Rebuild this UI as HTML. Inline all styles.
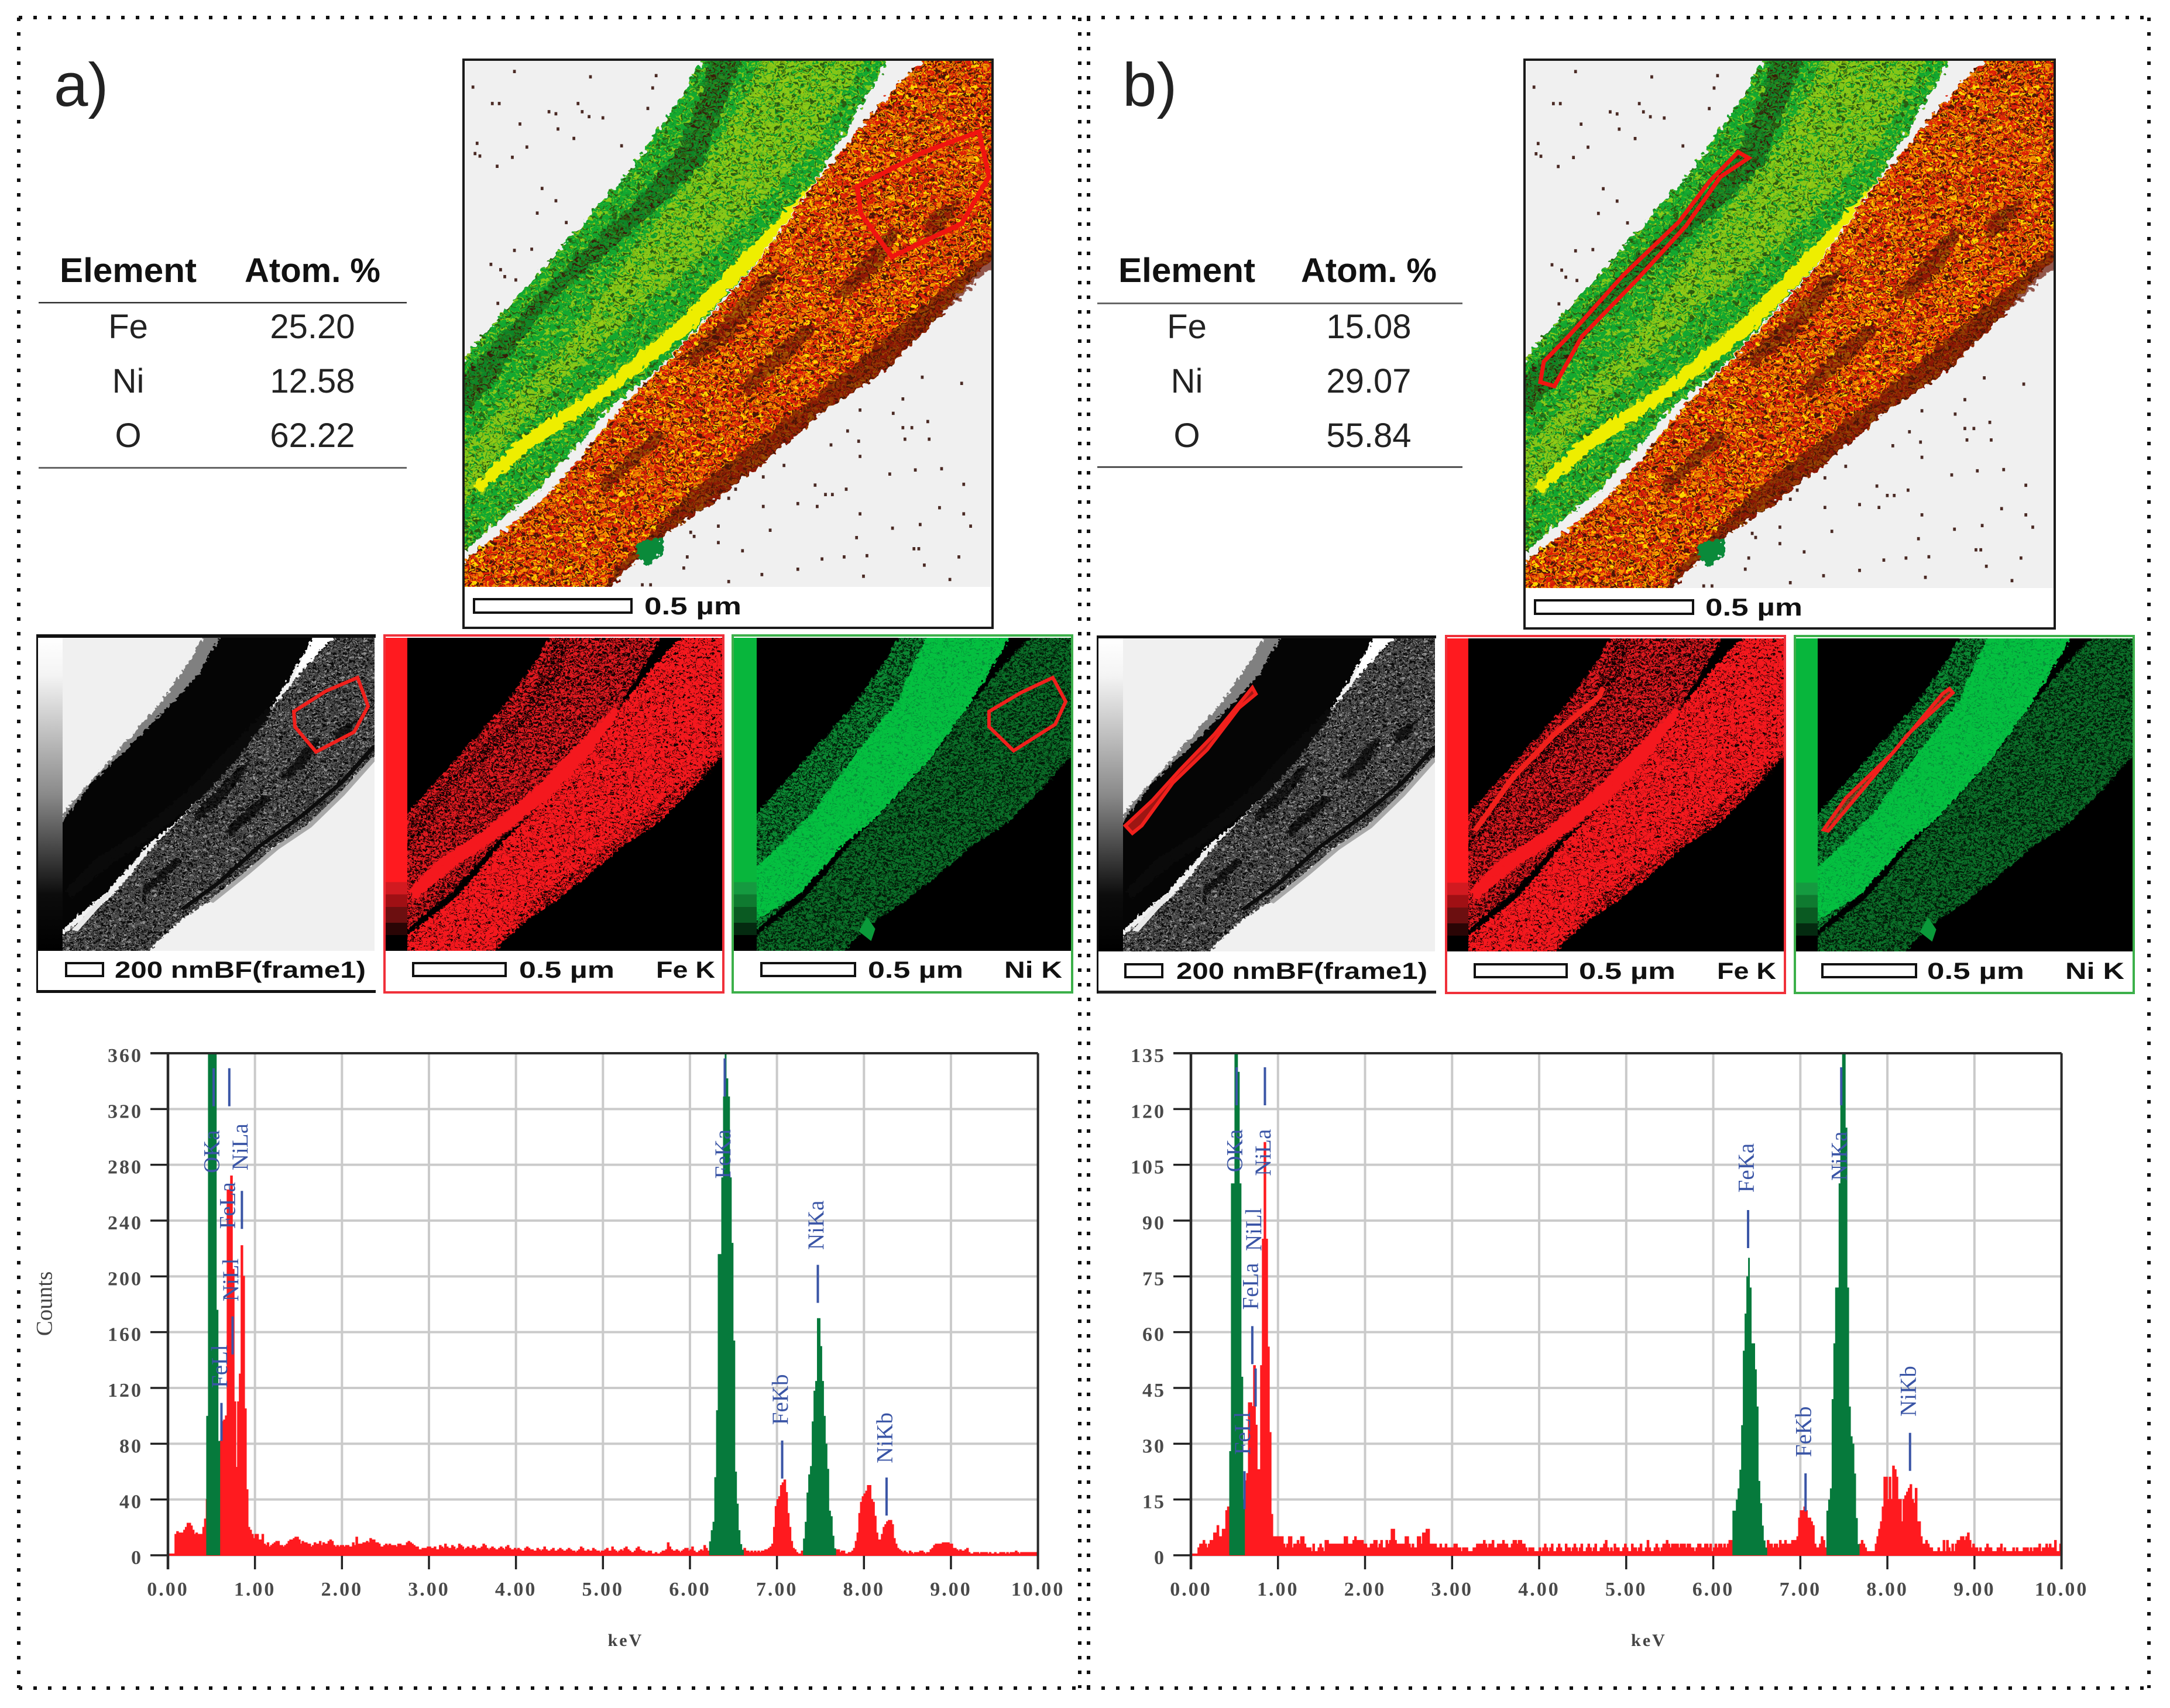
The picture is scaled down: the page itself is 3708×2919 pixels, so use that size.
<!DOCTYPE html>
<html lang="en">
<head>
<meta charset="utf-8">
<title>STEM-EDS maps and spectra</title>
<style>
html,body{margin:0;padding:0;background:#fff;}
svg{display:block;}
.tb{font-family:"Liberation Sans",sans-serif;font-size:58px;fill:#222;text-anchor:middle;}
.th{font-weight:700;fill:#111;}
.cap{font-family:"Liberation Sans",sans-serif;font-weight:700;fill:#111;}
.panel-letter{font-family:"Liberation Sans",sans-serif;font-size:105px;fill:#222;}
</style>
</head>
<body>
<svg id="figure" xmlns="http://www.w3.org/2000/svg" width="3708" height="2919" viewBox="0 0 3708 2919">
<defs>
  <polygon id="s-left" points="1020,120 1290,120 1230,290 1175,440 1090,640 960,880 880,990 830,1085 775,1195 720,1265 640,1385 640,925 668,870 735,740 820,580 900,430 985,230"/>
  <polygon id="s-right" points="1345,120 1460,120 1460,580 1430,630 1350,780 1270,910 1190,1000 1120,1100 1030,1220 960,1300 860,1460 660,1460 640,1405 668,1365 735,1280 785,1210 840,1105 890,1000 960,885 1090,645 1175,445 1260,270 1300,200"/>
  <polygon id="s-inner" points="1255,120 1180,340 1060,560 900,780 760,1010 640,1280 640,1120 668,1080 800,870 900,640 1010,400 1070,250 1105,120"/>
  <polygon id="s-leftdark" points="1030,120 1075,120 1045,250 1010,400 950,500 860,640 800,720 770,780 700,950 660,1030 640,1030 640,960 735,790 830,620 910,500 970,380 1000,270"/>
  <polygon id="s-rightdark" points="1460,560 1460,600 1350,780 1270,910 1190,1000 1120,1100 1030,1220 960,1300 860,1460 890,1380 1000,1190 1150,1000 1300,790"/>
  <path id="s-rightmottle" d="M1130 640L1105 720L1050 830L1000 890L985 870L1040 780L1090 690ZM1300 560L1270 650L1220 730L1200 720L1240 640L1280 560ZM1180 800L1140 870L1080 960L1065 940L1110 860L1160 790ZM1390 480L1360 560L1330 590L1340 520ZM960 1060L920 1130L870 1200L860 1180L910 1100L945 1050Z"/>
  <polygon id="s-streak" points="1175,440 1095,630 1000,800 880,960 770,1085 690,1200 680,1185 750,1065 860,945 975,785 1070,620"/>
  <polygon id="s-nibright" points="1085,120 1290,120 1230,290 1175,440 1090,640 960,880 880,990 830,1085 775,1195 640,1330 640,1135 800,870 900,640 1010,400"/>
  <polygon id="s-bfstrip" points="1020,120 1060,120 1000,300 910,460 820,610 740,740 640,960 640,925 668,870 735,740 820,580 900,430 985,230"/>

  <filter id="rough" filterUnits="userSpaceOnUse" x="600" y="100" width="900" height="1400" color-interpolation-filters="sRGB">
    <feTurbulence type="fractalNoise" baseFrequency="0.12 0.08" numOctaves="2" seed="3" result="t"/>
    <feDisplacementMap in="SourceGraphic" in2="t" scale="20" xChannelSelector="R" yChannelSelector="G"/>
  </filter>
  <filter id="sp-dense" filterUnits="userSpaceOnUse" x="600" y="100" width="900" height="1400" color-interpolation-filters="sRGB">
    <feTurbulence type="fractalNoise" baseFrequency="0.2 0.12" numOctaves="2" seed="5" result="n"/>
    <feColorMatrix in="n" type="matrix" values="0 0 0 0 0 0 0 0 0 0 0 0 0 0 0 14 0 0 0 -6.9" result="m"/>
    <feComposite in="SourceGraphic" in2="m" operator="in"/>
  </filter>
  <filter id="sp-mid" filterUnits="userSpaceOnUse" x="600" y="100" width="900" height="1400" color-interpolation-filters="sRGB">
    <feTurbulence type="fractalNoise" baseFrequency="0.22 0.13" numOctaves="2" seed="11" result="n"/>
    <feColorMatrix in="n" type="matrix" values="0 0 0 0 0 0 0 0 0 0 0 0 0 0 0 14 0 0 0 -7.6" result="m"/>
    <feComposite in="SourceGraphic" in2="m" operator="in"/>
  </filter>
  <filter id="sp-mid2" filterUnits="userSpaceOnUse" x="600" y="100" width="900" height="1400" color-interpolation-filters="sRGB">
    <feTurbulence type="fractalNoise" baseFrequency="0.24 0.14" numOctaves="2" seed="37" result="n"/>
    <feColorMatrix in="n" type="matrix" values="0 0 0 0 0 0 0 0 0 0 0 0 0 0 0 14 0 0 0 -7.7" result="m"/>
    <feComposite in="SourceGraphic" in2="m" operator="in"/>
  </filter>
  <filter id="sp-sparse" filterUnits="userSpaceOnUse" x="600" y="100" width="900" height="1400" color-interpolation-filters="sRGB">
    <feTurbulence type="fractalNoise" baseFrequency="0.2 0.12" numOctaves="2" seed="23" result="n"/>
    <feColorMatrix in="n" type="matrix" values="0 0 0 0 0 0 0 0 0 0 0 0 0 0 0 14 0 0 0 -8.3" result="m"/>
    <feComposite in="SourceGraphic" in2="m" operator="in"/>
  </filter>

  <symbol id="art-overlay" viewBox="668 148 762 1282" preserveAspectRatio="none">
    <rect x="668" y="148" width="762" height="1282" fill="#f0f0f0"/>
    <g filter="url(#rough)">
      <use href="#s-left" fill="#12a830"/>
      <g filter="url(#sp-mid)"><use href="#s-left" fill="#8cc818"/></g>
      <use href="#s-inner" fill="#9acb14" fill-opacity="0.85"/>
      <g filter="url(#sp-sparse)"><use href="#s-inner" fill="#e0e400"/></g>
      <g filter="url(#sp-mid2)"><use href="#s-inner" fill="#0ca030"/></g>
      <use href="#s-leftdark" fill="#0e7a24" fill-opacity="0.75"/>
      <g filter="url(#sp-mid2)"><use href="#s-leftdark" fill="#3a1a08"/></g>
      <g filter="url(#sp-sparse)"><use href="#s-left" fill="#2a5a10"/></g>
      <use href="#s-right" fill="#dc1e08"/>
      <g filter="url(#sp-dense)"><use href="#s-right" fill="#f48a00"/></g>
      <g filter="url(#sp-sparse)"><use href="#s-right" fill="#ffd800"/></g>
      <use href="#s-rightmottle" fill="#5a1006" fill-opacity="0.55"/>
      <use href="#s-rightdark" fill="#6a1404" fill-opacity="0.7"/>
      <g filter="url(#sp-mid2)"><use href="#s-right" fill="#4a1406"/></g>
      <use href="#s-streak" fill="#eeee00"/>
      <polygon points="920,1320 950,1310 955,1340 935,1380 915,1350" fill="#0a8a3a"/>
    </g>
    <path fill="none" stroke="#4a2a24" stroke-width="4" d="M740 170v8M850 183v8M945 180v8M940 210v8M680 208v8M708 248v8M718 248v8M790 268v8M800 273v8M832 248v8M838 268v8M848 280v8M868 283v8M933 260v8M748 298v8M803 310v8M826 333v8M686 345v8M758 354v8M895 351v8M683 370v8M690 376v8M737 379v8M715 401v8M780 455v8M800 485v8M773 515v8M815 538v8M740 606v8M765 603v8M706 640v8M720 653v8M726 670v8M742 678v8M716 735v8M1330 915v8M1387 930v8M1302 968v8M1240 995v8M1288 1003v8M1338 1023v8M1302 1038v8M1315 1038v8M1222 1046v8M1238 1071v8M1305 1066v8M1340 1066v8M1198 1080v8M1240 1108v8M1130 1130v8M1100 1158v8M1175 1178v8M1283 1151v8M1320 1141v8M1358 1138v8M1390 1176v8M1190 1201v8M1200 1201v8M1220 1188v8M1060 1188v8M1050 1210v8M1100 1230v8M1150 1223v8M1178 1230v8M1240 1248v8M1355 1233v8M1390 1248v8M1035 1278v8M995 1293v8M1000 1303v8M1110 1288v8M1287 1283v8M1327 1274v8M1400 1278v8M1235 1306v8M1070 1338v8M1035 1318v8M990 1353v8M985 1380v8M1185 1358v8M1217 1353v8M1250 1350v8M1318 1333v8M1325 1333v8M1383 1353v8M1333 1373v8M1150 1383v8M1050 1413v8M1098 1396v8M1245 1400v8M1370 1408v8M925 1421v8M937 1421v8"/>
  </symbol>

  <symbol id="art-bf" viewBox="668 148 762 1282" preserveAspectRatio="none">
    <rect x="668" y="148" width="762" height="1282" fill="#f0f0f0"/>
    <polygon points="1280,120 1350,120 1260,270 1230,320" fill="#ffffff"/>
    <g filter="url(#rough)">
      <use href="#s-left" fill="#050505"/>
      <use href="#s-bfstrip" fill="#808080"/>
      <use href="#s-right" fill="#4c4c4c"/>
      <g filter="url(#sp-dense)"><use href="#s-right" fill="#0a0a0a"/></g>
      <g filter="url(#sp-sparse)"><use href="#s-right" fill="#969696"/></g>
      <use href="#s-rightmottle" fill="#000000" fill-opacity="0.7"/>
      <use href="#s-streak" fill="#0a0a0a" stroke="#0a0a0a" stroke-width="14"/>
    </g>
    <polyline points="1430,590 1350,740 1250,880 1150,1000 1050,1150 960,1260" fill="none" stroke="#0c0c0c" stroke-width="12"/>
    <polyline points="1430,640 1350,790 1270,920 1190,1010 1120,1110 1030,1230" fill="none" stroke="#a8a8a8" stroke-width="14"/>
    <polygon points="690,1345 770,1200 790,1190 705,1350" fill="#e8e8e8"/>
  </symbol>

  <symbol id="art-fe" viewBox="668 148 762 1282" preserveAspectRatio="none">
    <rect x="668" y="148" width="762" height="1282" fill="#000000"/>
    <g filter="url(#rough)">
      <use href="#s-left" fill="#e01a20"/>
      <g filter="url(#sp-dense)"><use href="#s-left" fill="#180002"/></g>
      <g filter="url(#sp-mid)"><use href="#s-leftdark" fill="#000000"/></g>
      <use href="#s-right" fill="#f4181e"/>
      <g filter="url(#sp-sparse)"><use href="#s-right" fill="#120000"/></g>
      <g filter="url(#sp-mid)"><use href="#s-rightdark" fill="#100000"/></g>
      <use href="#s-streak" fill="#f4181e" stroke="#f4181e" stroke-width="20"/>
    </g>
  </symbol>

  <symbol id="art-ni" viewBox="668 148 762 1282" preserveAspectRatio="none">
    <rect x="668" y="148" width="762" height="1282" fill="#000000"/>
    <g filter="url(#rough)">
      <use href="#s-right" fill="#0b7029"/>
      <g filter="url(#sp-dense)"><use href="#s-right" fill="#021a08"/></g>
      <use href="#s-left" fill="#0c8a34"/>
      <g filter="url(#sp-dense)"><use href="#s-left" fill="#02200a"/></g>
      <use href="#s-nibright" fill="#04c040"/>
      <g filter="url(#sp-sparse)"><use href="#s-nibright" fill="#07903a"/></g>
    </g>
    <polygon points="915,1350 935,1290 955,1340 945,1390" fill="#0a9a3a"/>
  </symbol>

  <linearGradient id="grey-scale" x1="0" y1="0" x2="0" y2="1">
    <stop offset="0" stop-color="#ffffff"/>
    <stop offset="0.12" stop-color="#f4f4f4"/>
    <stop offset="0.5" stop-color="#8a8a8a"/>
    <stop offset="0.82" stop-color="#0c0c0c"/>
    <stop offset="1" stop-color="#000000"/>
  </linearGradient>
  <linearGradient id="red-scale" x1="0" y1="0" x2="0" y2="1">
    <stop offset="0.78" stop-color="#ff1a1f"/>
    <stop offset="0.78" stop-color="#d21a20"/>
    <stop offset="0.82" stop-color="#d21a20"/>
    <stop offset="0.82" stop-color="#a01014"/>
    <stop offset="0.86" stop-color="#a01014"/>
    <stop offset="0.86" stop-color="#6c0f10"/>
    <stop offset="0.91" stop-color="#6c0f10"/>
    <stop offset="0.91" stop-color="#2a0505"/>
    <stop offset="0.95" stop-color="#2a0505"/>
    <stop offset="0.95" stop-color="#000000"/>
  </linearGradient>
  <linearGradient id="green-scale" x1="0" y1="0" x2="0" y2="1">
    <stop offset="0.78" stop-color="#08b63c"/>
    <stop offset="0.78" stop-color="#159a40"/>
    <stop offset="0.82" stop-color="#159a40"/>
    <stop offset="0.82" stop-color="#0f7a30"/>
    <stop offset="0.86" stop-color="#0f7a30"/>
    <stop offset="0.86" stop-color="#0a5a22"/>
    <stop offset="0.91" stop-color="#0a5a22"/>
    <stop offset="0.91" stop-color="#042a10"/>
    <stop offset="0.95" stop-color="#042a10"/>
    <stop offset="0.95" stop-color="#000000"/>
  </linearGradient>
</defs>

<rect width="3708" height="2919" fill="#ffffff"/>

<g fill="none" stroke="#111" stroke-width="6" stroke-dasharray="6 19">
  <line x1="32" y1="30" x2="3675" y2="30"/>
  <line x1="32" y1="2885" x2="3675" y2="2885"/>
  <line x1="32" y1="30" x2="32" y2="2885"/>
  <line x1="3672" y1="30" x2="3672" y2="2885"/>
  <line x1="1845" y1="30" x2="1845" y2="2885"/>
  <line x1="1860" y1="30" x2="1860" y2="2885"/>
</g>

<!-- PANEL A -->
<text class="panel-letter" x="92" y="181">a)</text>
<g>
  <text class="tb th" x="219" y="482" textLength="234" lengthAdjust="spacingAndGlyphs">Element</text>
  <text class="tb th" x="534" y="482">Atom. %</text>
  <rect x="66" y="516" width="629" height="2.5" fill="#333"/>
  <text class="tb" x="219" y="578">Fe</text>
  <text class="tb" x="534" y="578">25.20</text>
  <text class="tb" x="219" y="671">Ni</text>
  <text class="tb" x="534" y="671">12.58</text>
  <text class="tb" x="219" y="764">O</text>
  <text class="tb" x="534" y="764">62.22</text>
  <rect x="66" y="798" width="629" height="3" fill="#666"/>
</g>
<g>
  <rect x="792" y="102" width="904" height="971" fill="#fff" stroke="#1a1a1a" stroke-width="4"/>
  <use href="#art-overlay" x="794" y="104" width="900" height="899"/>
  <polygon points="1673,225 1690,302 1643,382 1524,439 1471,365 1465,319 1578,260" fill="none" stroke="#f01410" stroke-width="8"/>
  <rect x="810" y="1024" width="269" height="23" fill="#fff" stroke="#111" stroke-width="4"/>
  <text class="cap" x="1101" y="1050" font-size="42" textLength="166" lengthAdjust="spacingAndGlyphs">0.5 µm</text>
</g>
<g>
  <rect x="62" y="1090" width="45" height="535" fill="url(#grey-scale)"/>
  <use href="#art-bf" x="107" y="1090" width="533" height="535"/>
  <rect x="62" y="1084" width="580" height="6" fill="#111"/>
  <rect x="62" y="1692" width="580" height="5" fill="#111"/>
  <rect x="62" y="1084" width="3" height="613" fill="#111"/>
  <polygon points="611,1158 629,1207 605,1251 540,1285 504,1242 502,1216 557,1181" fill="none" stroke="#f0201c" stroke-width="6"/>
  <rect x="113" y="1646" width="63" height="22" fill="#fff" stroke="#111" stroke-width="4"/>
  <text class="cap" x="196" y="1671" font-size="40" textLength="429" lengthAdjust="spacingAndGlyphs">200 nmBF(frame1)</text>
</g>
<g>
  <rect x="656" y="1090" width="40" height="535" fill="url(#red-scale)"/>
  <use href="#art-fe" x="696" y="1090" width="539" height="535"/>
  <rect x="657" y="1086" width="579" height="610" fill="none" stroke="#f0303a" stroke-width="4"/>
  <rect x="706" y="1646" width="158" height="22" fill="#fff" stroke="#111" stroke-width="4"/>
  <text class="cap" x="887" y="1671" font-size="40" textLength="163" lengthAdjust="spacingAndGlyphs">0.5 µm</text>
  <text class="cap" x="1121" y="1671" font-size="40" textLength="101" lengthAdjust="spacingAndGlyphs">Fe K</text>
</g>
<g>
  <rect x="1251" y="1090" width="42" height="535" fill="url(#green-scale)"/>
  <use href="#art-ni" x="1293" y="1090" width="538" height="535"/>
  <rect x="1252" y="1086" width="580" height="610" fill="none" stroke="#3cb04a" stroke-width="4"/>
  <polygon points="1799,1158 1821,1199 1803,1238 1732,1283 1690,1242 1690,1216 1744,1184" fill="none" stroke="#f0201c" stroke-width="6"/>
  <rect x="1301" y="1646" width="160" height="22" fill="#fff" stroke="#111" stroke-width="4"/>
  <text class="cap" x="1483" y="1671" font-size="40" textLength="163" lengthAdjust="spacingAndGlyphs">0.5 µm</text>
  <text class="cap" x="1716" y="1671" font-size="40" textLength="99" lengthAdjust="spacingAndGlyphs">Ni K</text>
</g>

<!-- PANEL B -->
<text class="panel-letter" x="1918" y="181">b)</text>
<g>
  <text class="tb th" x="2028" y="482" textLength="234" lengthAdjust="spacingAndGlyphs">Element</text>
  <text class="tb th" x="2339" y="482">Atom. %</text>
  <rect x="1875" y="517" width="624" height="3" fill="#666"/>
  <text class="tb" x="2028" y="578">Fe</text>
  <text class="tb" x="2339" y="578">15.08</text>
  <text class="tb" x="2028" y="671">Ni</text>
  <text class="tb" x="2339" y="671">29.07</text>
  <text class="tb" x="2028" y="764">O</text>
  <text class="tb" x="2339" y="764">55.84</text>
  <rect x="1875" y="797" width="624" height="2.5" fill="#333"/>
</g>
<g>
  <rect x="2605" y="102" width="906" height="972" fill="#fff" stroke="#1a1a1a" stroke-width="4"/>
  <use href="#art-overlay" x="2607" y="104" width="902" height="901"/>
  <polygon points="2970,260 2988,270 2940,302 2881,386 2798,477 2703,575 2656,660 2632,653 2638,618 2680,575 2774,470 2869,379 2922,309" fill="none" stroke="#f01410" stroke-width="7"/>
  <rect x="2623" y="1026" width="270" height="23" fill="#fff" stroke="#111" stroke-width="4"/>
  <text class="cap" x="2914" y="1052" font-size="42" textLength="166" lengthAdjust="spacingAndGlyphs">0.5 µm</text>
</g>
<g>
  <rect x="1874" y="1091" width="45" height="535" fill="url(#grey-scale)"/>
  <use href="#art-bf" x="1919" y="1091" width="533" height="535"/>
  <rect x="1874" y="1086" width="580" height="5" fill="#111"/>
  <rect x="1874" y="1693" width="580" height="5" fill="#222"/>
  <rect x="1874" y="1086" width="3" height="612" fill="#111"/>
  <polygon points="2140,1175 2146,1186 2117,1210 2063,1281 2004,1338 1951,1411 1935,1424 1923,1411 1969,1368 2016,1316 2075,1255 2128,1190" fill="#f0201c" fill-opacity="0.65" stroke="#f0201c" stroke-width="6"/>
  <rect x="1923" y="1648" width="63" height="22" fill="#fff" stroke="#111" stroke-width="4"/>
  <text class="cap" x="2010" y="1673" font-size="40" textLength="429" lengthAdjust="spacingAndGlyphs">200 nmBF(frame1)</text>
</g>
<g>
  <rect x="2470" y="1091" width="39" height="535" fill="url(#red-scale)"/>
  <use href="#art-fe" x="2509" y="1091" width="539" height="535"/>
  <polyline points="2739,1175 2733,1190 2656,1255 2585,1329 2520,1420" fill="none" stroke="#f0201c" stroke-width="9"/>
  <rect x="2471" y="1087" width="579" height="610" fill="none" stroke="#f0303a" stroke-width="4"/>
  <rect x="2520" y="1648" width="157" height="22" fill="#fff" stroke="#111" stroke-width="4"/>
  <text class="cap" x="2698" y="1673" font-size="40" textLength="165" lengthAdjust="spacingAndGlyphs">0.5 µm</text>
  <text class="cap" x="2934" y="1673" font-size="40" textLength="101" lengthAdjust="spacingAndGlyphs">Fe K</text>
</g>
<g>
  <rect x="3066" y="1091" width="40" height="535" fill="url(#green-scale)"/>
  <use href="#art-ni" x="3106" y="1091" width="538" height="535"/>
  <polygon points="3331,1177 3337,1184 3260,1255 3189,1342 3124,1420 3116,1418 3154,1364 3236,1285 3319,1186" fill="#f0201c" fill-opacity="0.4" stroke="#f0201c" stroke-width="6"/>
  <rect x="3067" y="1087" width="579" height="610" fill="none" stroke="#3cb04a" stroke-width="4"/>
  <rect x="3114" y="1648" width="160" height="22" fill="#fff" stroke="#111" stroke-width="4"/>
  <text class="cap" x="3293" y="1673" font-size="40" textLength="166" lengthAdjust="spacingAndGlyphs">0.5 µm</text>
  <text class="cap" x="3529" y="1673" font-size="40" textLength="101" lengthAdjust="spacingAndGlyphs">Ni K</text>
</g>

<g id="chart-a"></g>
<g id="chart-b"></g>
</svg>

<script>
// Shared axis data
const binWidthKeV = 0.02;
const xTickValues = [0,1,2,3,4,5,6,7,8,9,10];
const xTickLabels = ['0.00','1.00','2.00','3.00','4.00','5.00','6.00','7.00','8.00','9.00','10.00'];
const peakNames = ['OKa','FeLl','FeLa','NiLl','NiLa','FeKa','FeKb','NiKa','NiKb'];
const peakEnergies = [0.525,0.615,0.705,0.743,0.85,6.40,7.06,7.47,8.26];

// Spectrum a
const yTickValuesA = [0,40,80,120,160,200,240,280,320,360];
const yTickLabelsA = ['0','40','80','120','160','200','240','280','320','360'];
const redCountsA = [
0,0,0,0,15,17,16,16,16,18, 20,23,23,21,18,15,16,15,15,15, 20,26,40,0,0,0,0,0,0,0, 82,96,97,100,262,262,272,205,110,63, 110,130,222,200,105,47,20,18,15,12,
15,15,11,11,15,8,7,9,6,7, 8,9,10,10,7,7,6,7,8,10, 11,11,12,13,13,11,8,10,9,9, 8,8,6,7,9,8,8,10,7,9, 8,8,10,11,10,7,6,7,6,7,
7,6,7,7,6,6,9,7,13,8, 8,8,9,9,10,9,12,11,11,9, 9,8,6,6,7,8,7,8,7,7, 7,6,8,8,7,7,7,9,10,9, 8,7,6,6,4,4,5,5,5,6,
6,5,5,6,4,4,7,6,5,8, 6,5,5,7,6,4,5,8,7,6, 4,5,6,5,5,7,6,4,5,5, 6,8,7,5,4,5,6,5,4,4, 5,6,5,4,6,7,5,4,4,5,
4,5,4,3,3,5,6,5,4,4, 3,3,5,4,3,4,6,4,3,3, 4,5,3,3,4,5,4,3,3,4, 5,4,3,3,2,3,4,6,5,3, 3,4,3,3,5,4,3,3,2,3,
3,4,5,3,3,6,4,3,2,3, 4,3,5,6,4,3,2,2,3,5, 6,4,3,3,2,2,3,3,1,1, 2,1,1,2,3,3,4,9,6,4, 3,3,4,3,2,3,4,5,5,3,
4,6,3,2,2,3,4,3,7,5, 3,0,0,0,0,0,0,0,0,0, 0,0,0,0,0,0,0,0,0,0, 3,5,3,3,2,3,2,3,2,3, 2,3,3,4,4,5,6,8,20,35,
40,42,50,52,54,45,30,20,10,5, 4,2,1,1,3,0,0,0,0,0, 0,0,0,0,0,0,0,0,0,0, 0,0,0,0,4,4,2,3,3,1, 1,2,2,3,5,10,16,30,38,42,
44,46,50,50,40,38,28,16,11,11, 15,20,22,24,25,25,22,12,8,5, 4,3,2,3,2,1,3,2,1,2, 2,2,3,3,2,1,2,2,4,5, 7,8,8,8,8,9,9,9,9,8,
8,5,5,4,3,4,3,3,4,5, 2,1,1,2,2,2,1,2,2,2, 2,1,2,1,1,2,1,1,2,2, 2,1,2,1,2,2,2,3,2,1, 2,2,2,2,2,2,2,2,2,2
];
const okaStartA = 0.44;
const okaCountsA = [100,380,380,380,380,380,176,82];
const feKaStartA = 6.22;
const feKaCountsA = [10,18,24,56,104,216,216,271,329,400,342,329,271,224,154,60,37,18,8,4];
const niKaStartA = 7.30;
const niKaCountsA = [12,24,45,58,64,96,118,125,170,170,150,125,100,80,62,32,28,14,5];
const leaderBottomA = [322,82,322,144,234,329,55,181,28.5];
const labelBottomA = [274,120,234,182,276,270,93.5,219,66];

// Spectrum b
const yTickValuesB = [0,15,30,45,60,75,90,105,120,135];
const yTickLabelsB = ['0','15','30','45','60','75','90','105','120','135'];
const redCountsB = [
0,0,0,0,2,3,3,4,3,2, 3,4,4,6,6,8,5,5,7,7, 12,13,0,0,0,0,0,0,0,0, 12,20,22,41,41,40,51,35,23,23, 51,85,111,85,56,33,11,5,5,5,
5,5,5,3,2,3,5,5,2,3, 3,4,3,5,5,3,2,2,2,1, 3,1,1,2,3,2,1,4,4,3, 3,3,3,3,3,3,3,3,5,5, 3,3,3,4,5,4,4,4,4,3,
3,2,2,3,3,4,4,2,3,4, 2,2,4,3,4,7,7,4,3,3, 3,3,3,5,5,3,2,3,2,2, 5,5,3,6,6,7,7,3,3,3, 3,2,2,3,2,2,3,2,2,2,
2,3,3,2,2,1,2,2,2,1, 1,1,2,2,3,3,3,3,4,3, 2,3,3,4,2,2,3,3,3,4, 3,3,2,2,3,4,4,3,4,4, 3,3,2,1,2,2,2,1,1,1,
2,1,2,3,2,1,2,3,1,1, 2,3,2,1,1,3,2,2,1,2, 3,2,1,2,3,1,1,2,3,2, 1,2,3,1,1,2,2,3,4,2, 1,2,1,3,2,2,1,1,2,3,
2,1,1,3,2,2,1,2,3,1, 1,2,4,2,1,1,2,3,2,1, 2,3,3,4,3,2,3,3,3,3, 2,3,3,3,2,3,3,2,2,1, 2,3,3,2,2,3,3,2,3,1,
2,3,2,3,3,2,3,2,3,4, 4,0,0,0,0,0,0,0,0,0, 0,0,0,0,0,0,0,0,0,0, 2,4,3,3,2,3,3,2,4,3, 3,4,3,3,3,4,4,4,5,10,
12,12,13,12,10,10,9,8,3,2, 2,3,5,4,2,0,0,0,0,0, 0,0,0,0,0,0,0,0,0,0, 0,0,0,0,3,4,3,2,1,1, 1,1,1,3,5,7,9,13,21,21,
15,21,15,24,23,21,15,15,9,15, 16,17,18,19,15,14,18,9,9,5, 3,3,4,3,2,2,1,1,1,2, 1,1,4,1,4,2,1,3,1,3, 4,4,5,5,4,5,6,4,2,3,
2,2,1,2,1,1,2,3,2,2, 1,1,1,2,2,3,1,2,1,1, 1,1,2,1,2,1,1,1,2,2, 2,1,2,1,2,2,2,3,1,2, 2,3,2,3,2,2,4,1,1,3
];
const okaStartB = 0.44;
const okaCountsB = [28,100,100,140,140,130,100,48,15];
const feKaStartB = 6.22;
const feKaCountsB = [12,12,15,18,23,35,55,65,75,80,72,57,57,50,40,20,14,8,4,2];
const niKaStartB = 7.30;
const niKaCountsB = [12,15,18,42,57,72,72,100,131,150,150,115,72,40,32,30,22,10,3];
const leaderBottomB = [121,12.4,51.4,40,121,82.6,11.8,121,22.7];
const labelBottomB = [103,27,66,81.8,102,97.5,26.4,100.7,37.3];

const SVG_NS = 'http://www.w3.org/2000/svg';
function make(tag, attrs, parent) {
  const el = document.createElementNS(SVG_NS, tag);
  for (const k in attrs) el.setAttribute(k, attrs[k]);
  parent.appendChild(el);
  return el;
}
function stepPath(startKeV, counts, X, Y, top) {
  const base = Y(0);
  let d = 'M' + X(startKeV).toFixed(1) + ' ' + base;
  counts.forEach(function (c, i) {
    const e = startKeV + i * binWidthKeV;
    const yy = Math.max(top, Y(c)).toFixed(1);
    d += 'L' + X(e).toFixed(1) + ' ' + yy + 'L' + X(e + binWidthKeV).toFixed(1) + ' ' + yy;
  });
  d += 'L' + X(startKeV + counts.length * binWidthKeV).toFixed(1) + ' ' + base + 'Z';
  return d;
}
function drawChart(root, c) {
  const X = function (k) { return c.x0 + k * c.pxPerKeV; };
  const Y = function (v) { return c.yBase - v * (c.yBase - c.yTop) / c.yMax; };
  const xEnd = X(10);

  c.yTicks.forEach(function (v, i) {
    const grid = make('line', {x1: c.x0, x2: xEnd, y1: Y(v), y2: Y(v), stroke: '#cacaca', 'stroke-width': 4}, root);
    
    
    const tick = make('line', {x1: c.x0 - 30, x2: c.x0, y1: Y(v), y2: Y(v), stroke: '#222', 'stroke-width': 3.5}, root);
    
    
    const lab = make('text', {x: c.x0 - 43, y: Y(v) + 15, 'text-anchor': 'end', 'font-family': '"Liberation Serif",serif', 'font-size': 34, 'font-weight': 700, 'letter-spacing': 3, fill: '#4a4a4a'}, root);
    lab.textContent = c.yLabels[i];
    
    
  });
  xTickValues.forEach(function (v, i) {
    const grid = make('line', {x1: X(v), x2: X(v), y1: c.yTop, y2: c.yBase, stroke: '#cacaca', 'stroke-width': 4}, root);
    
    
    const tick = make('line', {x1: X(v), x2: X(v), y1: c.yBase, y2: c.yBase + 24, stroke: '#222', 'stroke-width': 3.5}, root);
    
    
    const lab = make('text', {x: X(v), y: c.yBase + 69, 'text-anchor': 'middle', 'font-family': '"Liberation Serif",serif', 'font-size': 34, 'font-weight': 700, 'letter-spacing': 3, fill: '#4a4a4a'}, root);
    lab.textContent = xTickLabels[i];
    
    
  });

  const red = make('path', {d: stepPath(0, c.red, X, Y, c.yTop), fill: '#ff1a1f', stroke: '#ff1a1f', 'stroke-width': 1.5}, root);
  
  
  const base = make('line', {x1: c.x0, x2: xEnd, y1: c.yBase - 1, y2: c.yBase - 1, stroke: '#ff1a1f', 'stroke-width': 4}, root);
  
  

  const oka = make('path', {d: stepPath(c.okaStart, c.oka, X, Y, c.yTop), fill: '#067a3c'}, root);
  
  
  const feKa = make('path', {d: stepPath(c.feKaStart, c.feKa, X, Y, c.yTop), fill: '#067a3c'}, root);
  
  
  const niKa = make('path', {d: stepPath(c.niKaStart, c.niKa, X, Y, c.yTop), fill: '#067a3c'}, root);
  
  

  const top = make('line', {x1: c.x0 - 30, x2: xEnd, y1: c.yTop, y2: c.yTop, stroke: '#2a2a2a', 'stroke-width': 4}, root);
  
  
  const left = make('line', {x1: c.x0, x2: c.x0, y1: c.yTop, y2: c.yBase + 24, stroke: '#2a2a2a', 'stroke-width': 4.5}, root);
  
  
  const right = make('line', {x1: xEnd, x2: xEnd, y1: c.yTop, y2: c.yBase + 24, stroke: '#2a2a2a', 'stroke-width': 4}, root);
  
  

  peakNames.forEach(function (name, i) {
    const px = X(peakEnergies[i]);
    const by = Y(c.leader[i]);
    const leader = make('line', {x1: px, x2: px, y1: by - 65, y2: by, stroke: '#3a55a6', 'stroke-width': 4}, root);
    
    
    const ty = Y(c.label[i]);
    const label = make('text', {transform: 'translate(' + (px - 3).toFixed(1) + ' ' + ty.toFixed(1) + ') rotate(-90)', 'dominant-baseline': 'central', 'font-family': '"Liberation Serif",serif', 'font-size': 39, fill: '#3a55a6'}, root);
    label.textContent = name;
    
    
  });

  const xTitle = make('text', {x: X(5.26), y: 2813, 'text-anchor': 'middle', 'font-family': '"Liberation Serif",serif', 'font-size': 30, 'font-weight': 700, 'letter-spacing': 3, fill: '#444'}, root);
  xTitle.textContent = 'keV';
  
  
  if (c.showYTitle) {
    const yTitle = make('text', {transform: 'translate(76 2228) rotate(-90)', 'text-anchor': 'middle', 'dominant-baseline': 'central', 'font-family': '"Liberation Serif",serif', 'font-size': 39, fill: '#444'}, root);
    yTitle.textContent = 'Counts';
    
    
  }
}

drawChart(document.getElementById('chart-a'), {
  x0: 287, pxPerKeV: 148.66, yTop: 1800, yBase: 2658, yMax: 360,
  yTicks: yTickValuesA, yLabels: yTickLabelsA, red: redCountsA,
  okaStart: okaStartA, oka: okaCountsA, feKaStart: feKaStartA, feKa: feKaCountsA, niKaStart: niKaStartA, niKa: niKaCountsA,
  leader: leaderBottomA, label: labelBottomA, showYTitle: true
});
drawChart(document.getElementById('chart-b'), {
  x0: 2035, pxPerKeV: 148.76, yTop: 1800, yBase: 2658, yMax: 135,
  yTicks: yTickValuesB, yLabels: yTickLabelsB, red: redCountsB,
  okaStart: okaStartB, oka: okaCountsB, feKaStart: feKaStartB, feKa: feKaCountsB, niKaStart: niKaStartB, niKa: niKaCountsB,
  leader: leaderBottomB, label: labelBottomB, showYTitle: false
});
</script>
</body>
</html>
